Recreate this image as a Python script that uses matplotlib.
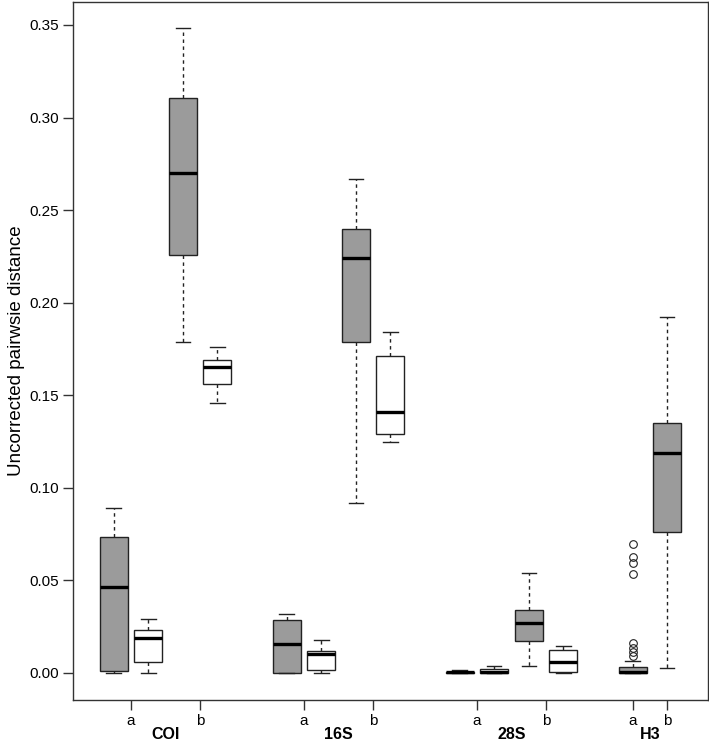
import numpy as np
import matplotlib
matplotlib.use('Agg')
import matplotlib.pyplot as plt
import matplotlib.transforms as mtransforms

plt.rcParams['font.family'] = ['Liberation Sans', 'DejaVu Sans']

genes = ['COI', '16S', '28S', 'H3']
group_labels = ['a', 'b', 'a', 'b', 'a', 'b', 'a', 'b']

# one entry per box, left to right
box_fill = ['gray', 'white', 'gray', 'white',
            'gray', 'white', 'gray', 'white',
            'gray', 'white', 'gray', 'white',
            'gray', 'gray']
whislo = [0.000, 0.000, 0.179, 0.146,
          0.000, 0.000, 0.092, 0.125,
          0.000, 0.000, 0.0040, 0.000,
          0.000, 0.0029]
q1 = [0.0013, 0.0059, 0.226, 0.156,
      0.000, 0.0014, 0.179, 0.129,
      0.000, 0.000, 0.0173, 0.0007,
      0.000, 0.0763]
med = [0.0466, 0.0191, 0.270, 0.165,
       0.0158, 0.0101, 0.224, 0.141,
       0.0003, 0.0007, 0.0272, 0.0058,
       0.0003, 0.119]
q3 = [0.0736, 0.0234, 0.3106, 0.169,
      0.0285, 0.0119, 0.240, 0.171,
      0.0007, 0.0022, 0.034, 0.0126,
      0.0031, 0.135]
whishi = [0.089, 0.0293, 0.3484, 0.176,
          0.0317, 0.0180, 0.267, 0.184,
          0.0018, 0.0040, 0.0542, 0.0148,
          0.0063, 0.192]
h3a_outliers = [0.0695, 0.0628, 0.0592, 0.0535, 0.0160, 0.0137, 0.0113, 0.0092]

# layout: tick positions for a/b of each gene, boxes pairwise around them
tick_pos = [1, 3, 6, 8, 11, 13, 15.5, 16.5]
box_pos = []
for t in tick_pos[:6]:
    box_pos += [t - 0.5, t + 0.5]
box_pos += tick_pos[6:]

stats = []
for i in range(len(med)):
    stats.append(dict(whislo=whislo[i], q1=q1[i], med=med[i], q3=q3[i],
                      whishi=whishi[i], fliers=[]))
stats[12]['fliers'] = h3a_outliers

fig = plt.figure(figsize=(7.09, 7.45), dpi=100)
ax = fig.add_axes([73 / 709, 1 - 700 / 745, 635 / 709, 698 / 745])

colors = {'gray': '#9b9b9b', 'white': 'white'}
ec = '#222222'
for s, p, f in zip(stats, box_pos, box_fill):
    ax.bxp([s], positions=[p], widths=0.81, capwidths=0.42, patch_artist=True,
           boxprops=dict(facecolor=colors[f], edgecolor=ec, linewidth=1.0),
           medianprops=dict(color='black', linewidth=2.4, solid_capstyle='butt'),
           whiskerprops=dict(color=ec, linewidth=1.0, linestyle=(0, (2.5, 2.5))),
           capprops=dict(color=ec, linewidth=1.0),
           flierprops=dict(marker='o', markerfacecolor='none', markeredgecolor=ec,
                           markersize=5.5, markeredgewidth=0.8),
           manage_ticks=False)

ax.set_xlim(-0.676, 17.68)
ax.set_ylim(-0.0146, 0.3624)
ax.set_yticks(np.arange(0, 0.351, 0.05))
ax.set_yticklabels(['%.2f' % v for v in np.arange(0, 0.351, 0.05)])
ax.set_xticks(tick_pos)
ax.set_xticklabels(group_labels)
ax.tick_params(axis='both', direction='out', length=7, width=1.0, color='#333333',
               labelsize=11, pad=3)
ax.tick_params(axis='x', pad=3)
for sp in ax.spines.values():
    sp.set_color('#333333')
    sp.set_linewidth(1.0)

ax.set_ylabel('Uncorrected pairwsie distance', fontsize=13.5, labelpad=3)

trans = mtransforms.blended_transform_factory(ax.transData, ax.transAxes)
for g, a, b in zip(genes, tick_pos[0::2], tick_pos[1::2]):
    ax.text((a + b) / 2, -0.05, g, transform=trans, ha='center', va='center',
            fontsize=11.5, fontweight='bold')

fig.savefig('out.png', dpi=100)
